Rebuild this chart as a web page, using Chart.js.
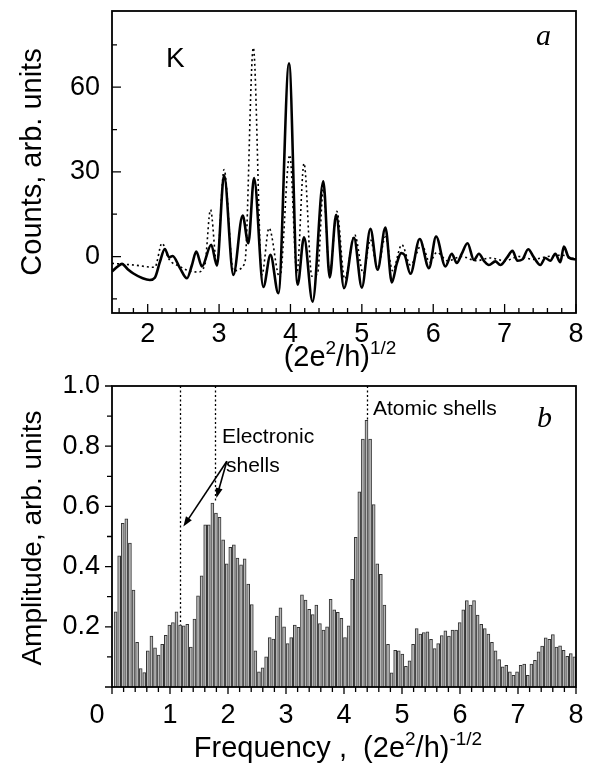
<!DOCTYPE html>
<html>
<head>
<meta charset="utf-8">
<script src="https://cdn.jsdelivr.net/npm/chart.js@4/dist/chart.umd.min.js"></script>
<style>
html,body{margin:0;padding:0;background:#fff;}
#wrap{position:relative;width:590px;height:769px;overflow:hidden;}
canvas{position:absolute;left:0;}
#cA{top:0;}
#cB{top:375px;}
</style>
</head>
<body>
<div id="wrap">
  <canvas id="cA" width="590" height="375"></canvas>
  <canvas id="cB" width="590" height="394"></canvas>
</div>
<script>
// ===== panel a: counts vs (2e^2/h)^1/2 =====
const solidX = [1.50,1.58,1.64,1.72,1.80,1.93,2.03,2.10,2.17,2.24,2.30,2.35,2.45,2.55,2.62,2.68,2.76,2.89,2.97,3.07,3.20,3.33,3.41,3.49,3.62,3.72,3.83,3.98,4.10,4.19,4.31,4.46,4.55,4.64,4.75,4.89,5.00,5.12,5.22,5.33,5.42,5.49,5.55,5.60,5.68,5.81,5.94,6.04,6.17,6.26,6.33,6.40,6.48,6.57,6.64,6.71,6.78,6.87,6.94,7.03,7.11,7.18,7.25,7.33,7.41,7.50,7.57,7.64,7.71,7.78,7.83,7.90,8.00];
const solidY = [-5.3,-3.5,-2.6,-4.5,-6.0,-7.7,-8.3,-7.5,-2,2.7,-0.3,0.2,-4,-7.7,-3,1.8,-3.5,4.2,-3.2,28.8,-6.5,14.5,4.7,27.8,-10.8,0.6,-13,68.5,-10,6.8,-16,26.7,-7.4,14.8,-11.2,6.6,-11,9.8,-4.7,10.3,-9.2,-2.4,1.2,0.5,-6.1,6.2,-4.1,7.1,-3.5,1,-2.3,1,4.7,-1.2,1,-1.5,-3,-1.7,-3,-0.5,2,-1.5,-1,2.6,-0.3,-3,-0.5,-1.5,1,-2,3.5,-0.4,-1];

const dotX = [1.50,1.80,2.10,2.20,2.30,2.45,2.55,2.70,2.80,2.88,2.97,3.07,3.20,3.36,3.48,3.60,3.70,3.85,3.99,4.09,4.19,4.30,4.38,4.46,4.55,4.65,4.76,4.90,5.02,5.12,5.22,5.33,5.43,5.56,5.68,5.84,5.95,6.05,6.20,6.40,6.60,6.80,7.00,7.20,7.40,7.60,7.80,8.00];
const dotY = [-2.4,-3.0,-3.8,4.7,-1,-3.5,-4.8,-5.5,-3,16.6,-3,30.8,-5,-2.4,74,-6.5,10.1,-7.5,36,-6,33,-7,-6,24,-6,16,-8,7.7,-6,6,-4,7,-5,4.2,-3,4.2,-2,1.5,-1.5,0,-1.5,-0.5,-1.5,0,-1,0,0.5,-1];

const aTicksX = [2,3,4,5,6,7,8];
const aTicksY = [0,30,60];

// ===== panel b: Fourier amplitude =====
const freqStep = 0.0618;
const amp = [0.25,0.436,0.544,0.559,0.478,0.322,0.148,0.061,0.048,0.12,
  0.169,0.13,0.106,0.142,0.172,0.206,0.214,0.25,0.206,0.203,
  0.208,0.133,0.226,0.303,0.369,0.539,0.539,0.611,0.578,0.564,
  0.489,0.409,0.464,0.472,0.428,0.406,0.426,0.342,0.274,0.12,
  0.05,0.064,0.1,0.164,0.159,0.236,0.263,0.2,0.144,0.164,
  0.206,0.198,0.306,0.289,0.258,0.241,0.272,0.211,0.189,0.2,
  0.291,0.256,0.248,0.228,0.164,0.203,0.358,0.497,0.648,0.824,
  0.886,0.824,0.606,0.409,0.374,0.272,0.142,0.047,0.122,0.12,
  0.109,0.069,0.087,0.142,0.194,0.176,0.181,0.183,0.158,0.128,
  0.144,0.171,0.187,0.169,0.189,0.189,0.214,0.256,0.287,0.272,
  0.287,0.239,0.208,0.194,0.176,0.148,0.12,0.091,0.067,0.072,
  0.05,0.039,0.05,0.072,0.076,0.039,0.076,0.089,0.117,0.136,
  0.163,0.158,0.174,0.133,0.137,0.122,0.102,0.111,0.1];
const bTicksX = [0,1,2,3,4,5,6,7,8];
const bTicksY = [0.2,0.4,0.6,0.8,1.0];
const shellX = [1.18,1.78,4.39];
const shellTop = [0.206,0.611,0.886];

const SANS = '"Liberation Sans", Arial, sans-serif';
const SERIF = '"Liberation Serif", "Times New Roman", serif';
const tickFont = {family: SANS, size: 27};

function drawRich(ctx, parts, cx, y, size){
    let w = 0;
    parts.forEach(p=>{
        ctx.font = (p.sup ? Math.round(size*0.64) : size) + 'px ' + SANS;
        w += ctx.measureText(p.t).width;
    });
    let x = cx - w/2;
    ctx.textAlign = 'left';
    ctx.textBaseline = 'alphabetic';
    parts.forEach(p=>{
        ctx.font = (p.sup ? Math.round(size*0.64) : size) + 'px ' + SANS;
        ctx.fillText(p.t, x, p.sup ? y - size*0.42 : y);
        x += ctx.measureText(p.t).width;
    });
}

function drawFrameTicks(chart, o){
    const {ctx, chartArea:a, scales:{x, y}} = chart;
    ctx.save();
    ctx.strokeStyle = '#000';
    ctx.lineWidth = 1.8;
    ctx.strokeRect(a.left, a.top, a.right - a.left, a.bottom - a.top);
    ctx.lineWidth = 1.3;
    ctx.beginPath();
    for(let i = Math.ceil(x.min/o.xStep - 1e-6); i*o.xStep <= x.max + 1e-6; i++){
        const v = i*o.xStep;
        const major = Math.abs(v - Math.round(v)) < 1e-6;
        const len = major ? o.major : o.minor;
        const px = x.getPixelForValue(v);
        ctx.moveTo(px, a.bottom);
        ctx.lineTo(px, a.bottom + o.dir*len);
    }
    for(let i = Math.ceil(y.min/o.yStep - 1e-6); i*o.yStep <= y.max + 1e-6; i++){
        const v = i*o.yStep;
        const major = i % 2 === 0;
        const len = major ? o.major : o.minor;
        const py = y.getPixelForValue(v);
        ctx.moveTo(a.left, py);
        ctx.lineTo(a.left - o.dir*len, py);
    }
    ctx.stroke();
    ctx.restore();
}

function arrow(ctx, x1, y1, x2, y2){
    const ang = Math.atan2(y2 - y1, x2 - x1);
    ctx.beginPath();
    ctx.moveTo(x1, y1);
    ctx.lineTo(x2 - 6*Math.cos(ang), y2 - 6*Math.sin(ang));
    ctx.stroke();
    ctx.beginPath();
    ctx.moveTo(x2, y2);
    ctx.lineTo(x2 - 10*Math.cos(ang) + 3.5*Math.sin(ang), y2 - 10*Math.sin(ang) - 3.5*Math.cos(ang));
    ctx.lineTo(x2 - 10*Math.cos(ang) - 3.5*Math.sin(ang), y2 - 10*Math.sin(ang) + 3.5*Math.cos(ang));
    ctx.closePath();
    ctx.fill();
}

const panelA = {
    id: 'panelA',
    afterDraw(chart){
        const ctx = chart.ctx;
        drawFrameTicks(chart, {xStep:0.2, yStep:15, major:9, minor:5, dir:-1});
        ctx.save();
        ctx.fillStyle = '#000';
        ctx.font = '28px ' + SANS;
        ctx.textAlign = 'left';
        ctx.fillText('K', 166, 67);
        ctx.font = 'italic 30px ' + SERIF;
        ctx.fillText('a', 536, 45);
        drawRich(ctx, [{t:'(2e'},{t:'2',sup:true},{t:'/h)'},{t:'1/2',sup:true}], 340, 366, 29);
        ctx.translate(41, 162);
        ctx.rotate(-Math.PI/2);
        drawRich(ctx, [{t:'Counts, arb. units'}], 0, 0, 29);
        ctx.restore();
    }
};

const panelB = {
    id: 'panelB',
    afterDatasetsDraw(chart){
        const {ctx, chartArea:a, scales:{x, y}} = chart;
        ctx.save();
        ctx.strokeStyle = '#000';
        ctx.lineWidth = 1.3;
        ctx.setLineDash([2, 2.5]);
        shellX.forEach((f, i)=>{
            const px = Math.round(x.getPixelForValue(f)) + 0.5;
            ctx.beginPath();
            ctx.moveTo(px, a.top);
            ctx.lineTo(px, y.getPixelForValue(shellTop[i]));
            ctx.stroke();
        });
        ctx.setLineDash([]);
        ctx.fillStyle = '#000';
        ctx.lineWidth = 1.6;
        const sx = x.getPixelForValue(1.98), sy = y.getPixelForValue(0.75);
        arrow(ctx, sx, sy, x.getPixelForValue(1.23), y.getPixelForValue(0.533));
        arrow(ctx, sx, sy, x.getPixelForValue(1.80), y.getPixelForValue(0.628));
        ctx.font = '21px ' + SANS;
        ctx.textAlign = 'left';
        ctx.fillText('Electronic', 222, 68);
        ctx.fillText('shells', 226, 97);
        ctx.fillText('Atomic shells', 373, 40);
        ctx.font = 'italic 30px ' + SERIF;
        ctx.fillText('b', 537, 52);
        ctx.restore();
    },
    afterDraw(chart){
        const ctx = chart.ctx;
        drawFrameTicks(chart, {xStep:0.2, yStep:0.1, major:7, minor:5, dir:1});
        ctx.save();
        ctx.fillStyle = '#000';
        drawRich(ctx, [{t:'Frequency ,  (2e'},{t:'2',sup:true},{t:'/h)'},{t:'-1/2',sup:true}], 338, 382, 29);
        ctx.translate(41, 163);
        ctx.rotate(-Math.PI/2);
        drawRich(ctx, [{t:'Amplitude, arb. units'}], 0, 0, 28);
        ctx.restore();
    }
};

new Chart(document.getElementById('cA'), {
    type: 'line',
    data: {
        datasets: [
            {data: solidX.map((v,i)=>({x:v, y:solidY[i]})), borderColor:'#000', borderWidth:2.6,
             pointRadius:0, cubicInterpolationMode:'monotone'},
            {data: dotX.map((v,i)=>({x:v, y:dotY[i]})), borderColor:'#000', borderWidth:1.6,
             borderDash:[2,3], pointRadius:0, cubicInterpolationMode:'monotone'}
        ]
    },
    options: {
        responsive:false, animation:false,
        layout:{padding:{top:11, right:14, left:0, bottom:0}},
        plugins:{legend:{display:false}, tooltip:{enabled:false}},
        scales:{
            x:{type:'linear', min:1.5, max:8,
               grid:{display:false, drawTicks:false}, border:{display:false},
               ticks:{font:tickFont, color:'#000', padding:5, maxRotation:0, autoSkip:false},
               afterBuildTicks: s=>{ s.ticks = aTicksX.map(v=>({value:v})); },
               afterFit: s=>{ s.height = 62; s.paddingLeft = 0; s.paddingRight = 0; }},
            y:{type:'linear', min:-20, max:87,
               grid:{display:false, drawTicks:false}, border:{display:false},
               ticks:{font:tickFont, color:'#000', padding:12},
               afterBuildTicks: s=>{ s.ticks = aTicksY.map(v=>({value:v})); },
               afterFit: s=>{ s.width = 112; s.paddingTop = 0; s.paddingBottom = 0; }}
        }
    },
    plugins:[panelA]
});

new Chart(document.getElementById('cB'), {
    type: 'bar',
    data: {
        datasets: [{
            data: amp.map((v,i)=>({x:(i+1)*freqStep, y:v})),
            backgroundColor:'#b8b8b8', borderColor:'#333', borderWidth:1,
            barThickness:3
        }]
    },
    options: {
        responsive:false, animation:false,
        layout:{padding:{top:11, right:14, left:0, bottom:0}},
        plugins:{legend:{display:false}, tooltip:{enabled:false}},
        scales:{
            x:{type:'linear', min:0, max:8, offset:false,
               grid:{display:false, drawTicks:false, offset:false}, border:{display:false},
               ticks:{font:tickFont, color:'#000', padding:12, maxRotation:0, autoSkip:false,
                      callback: v => v === 0 ? '0    ' : String(v)},
               afterBuildTicks: s=>{ s.ticks = bTicksX.map(v=>({value:v})); },
               afterFit: s=>{ s.height = 82; s.paddingLeft = 0; s.paddingRight = 0; }},
            y:{type:'linear', min:0, max:1.0,
               grid:{display:false, drawTicks:false}, border:{display:false},
               ticks:{font:tickFont, color:'#000', padding:12,
                      callback: v => v.toFixed(1)},
               afterBuildTicks: s=>{ s.ticks = bTicksY.map(v=>({value:v})); },
               afterFit: s=>{ s.width = 112; s.paddingTop = 0; s.paddingBottom = 0; }}
        }
    },
    plugins:[panelB]
});
</script>
</body>
</html>
